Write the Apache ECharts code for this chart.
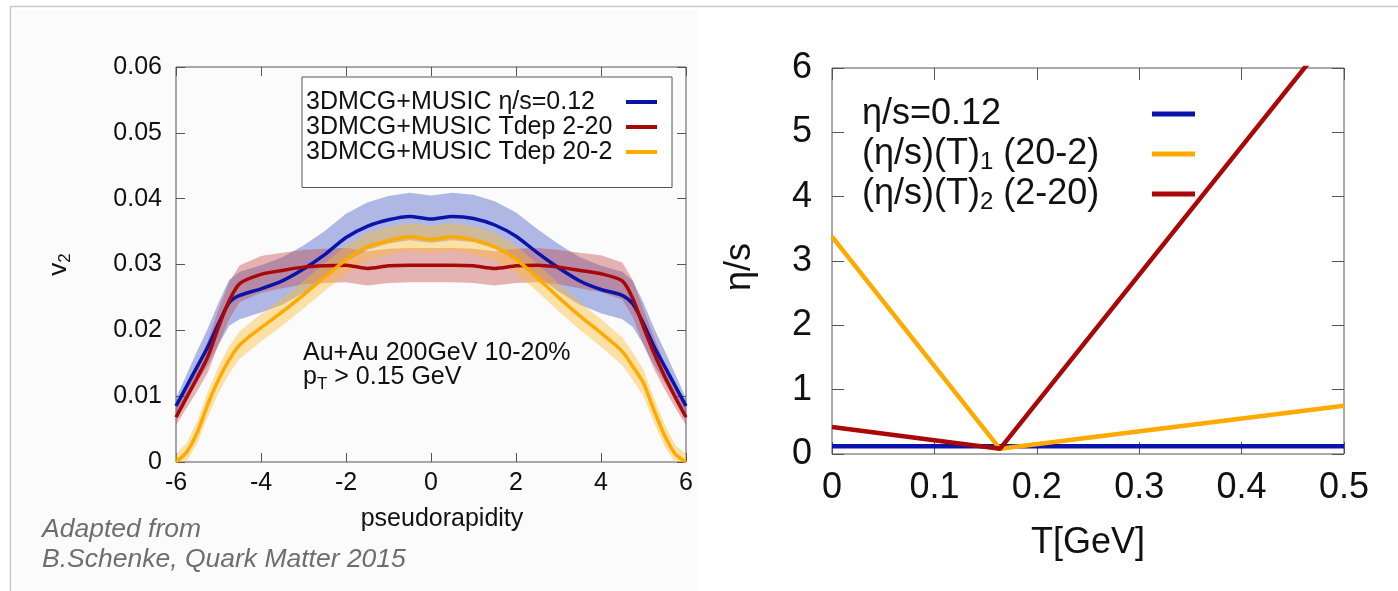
<!DOCTYPE html>
<html>
<head>
<meta charset="utf-8">
<script src="https://cdn.jsdelivr.net/npm/echarts@6/dist/echarts.min.js"></script>
<style>
  html, body { margin: 0; padding: 0; background: #ffffff; }
  #main { width: 1398px; height: 591px; }
</style>
</head>
<body>
<div id="main"></div>
<script>
const FONT = '"Liberation Sans", Arial, Helvetica, sans-serif';

// ---- Left panel: elliptic flow v2 versus pseudorapidity ----
const eta = [-6, -5.75, -5.5, -5.25, -5, -4.75, -4.5, -4, -3.5, -3, -2.5, -2, -1.5, -1, -0.5, 0,
             0.5, 1, 1.5, 2, 2.5, 3, 3.5, 4, 4.5, 4.75, 5, 5.25, 5.5, 5.75, 6];

const v2Const = [0.0085, 0.0115, 0.0145, 0.0175, 0.0210, 0.0242, 0.0253, 0.0263, 0.0275, 0.0293, 0.0315,
                 0.0341, 0.0358, 0.0368, 0.0373, 0.0369, 0.0373, 0.0370, 0.0360, 0.0343, 0.0318, 0.0295,
                 0.0275, 0.0262, 0.0253, 0.0240, 0.0210, 0.0175, 0.0145, 0.0115, 0.0085];
const v2ConstErr = [0.0012, 0.0018, 0.0024, 0.0028, 0.0032, 0.0035, 0.0036, 0.0036, 0.0036, 0.0036, 0.0036,
                    0.0036, 0.0036, 0.0036, 0.0036, 0.0036, 0.0036, 0.0036, 0.0036, 0.0036, 0.0036, 0.0036,
                    0.0036, 0.0036, 0.0036, 0.0035, 0.0032, 0.0028, 0.0024, 0.0018, 0.0012];

const v2Tdep2to20 = [0.0068, 0.0098, 0.0128, 0.0160, 0.0205, 0.0245, 0.0271, 0.0285, 0.0291, 0.0296, 0.0298,
                     0.0299, 0.0294, 0.0298, 0.0299, 0.0299, 0.0299, 0.0298, 0.0294, 0.0298, 0.0299, 0.0296,
                     0.0291, 0.0286, 0.0275, 0.0248, 0.0205, 0.0165, 0.0130, 0.0098, 0.0068];
const v2Tdep2to20Err = [0.0012, 0.0016, 0.0020, 0.0024, 0.0027, 0.0028, 0.0028, 0.0028, 0.0027, 0.0026, 0.0026,
                        0.0026, 0.0026, 0.0026, 0.0026, 0.0026, 0.0026, 0.0026, 0.0026, 0.0026, 0.0026, 0.0026,
                        0.0027, 0.0028, 0.0028, 0.0028, 0.0027, 0.0024, 0.0020, 0.0016, 0.0012];

const v2Tdep20to2 = [0.0000, 0.0015, 0.0045, 0.0088, 0.0125, 0.0155, 0.0178, 0.0204, 0.0228, 0.0254, 0.0281,
                     0.0307, 0.0327, 0.0336, 0.0342, 0.0338, 0.0342, 0.0337, 0.0327, 0.0308, 0.0280, 0.0250,
                     0.0222, 0.0196, 0.0168, 0.0145, 0.0120, 0.0078, 0.0040, 0.0012, 0.0000];
const v2Tdep20to2Err = [0.0012, 0.0014, 0.0017, 0.0019, 0.0020, 0.0021, 0.0021, 0.0021, 0.0021, 0.0021, 0.0021,
                        0.0021, 0.0021, 0.0021, 0.0021, 0.0021, 0.0021, 0.0021, 0.0021, 0.0021, 0.0021, 0.0021,
                        0.0021, 0.0021, 0.0021, 0.0021, 0.0020, 0.0019, 0.0017, 0.0014, 0.0012];

const leftNames = ['3DMCG+MUSIC η/s=0.12', '3DMCG+MUSIC Tdep 2-20', '3DMCG+MUSIC Tdep 20-2'];
const etaRange = { min: -6, max: 6, step: 2 };
const v2Range = { min: 0, max: 0.06, step: 0.01 };

// ---- Right panel: eta/s parametrisations versus temperature ----
const temperature = [0, 0.164, 0.5];
const etaSConst = [0.12, 0.12, 0.12];
const etaS20to2 = [3.38, 0.08, 0.75];
const etaS2to20 = [0.42, 0.08, 6.77];
const rightNames = ['η/s=0.12', '(η/s)(T)1 (20-2)', '(η/s)(T)2 (2-20)'];
const tRange = { min: 0, max: 0.5, step: 0.1 };
const etaSRange = { min: 0, max: 6, step: 1 };

const BLUE = '#0a14aa', RED = '#aa0808', ORANGE = '#ffaa00';

function pairs(xs, ys) { return xs.map((x, i) => [x, ys[i]]); }

// Shaded uncertainty band drawn as one polygon through the axis scales
function band(center, err, fill) {
  return {
    type: 'custom', xAxisIndex: 0, yAxisIndex: 0, silent: true, clip: true, z: 1,
    data: [[0, 0]],
    renderItem: function (params, api) {
      const upper = eta.map((x, i) => api.coord([x, center[i] + err[i]]));
      const lower = eta.map((x, i) => api.coord([x, center[i] - err[i]])).reverse();
      return { type: 'polygon', shape: { points: upper.concat(lower) }, style: { fill: fill } };
    }
  };
}

function line(name, xs, ys, color, width, xi, yi, smooth, z) {
  return {
    type: 'line', name: name, xAxisIndex: xi, yAxisIndex: yi, data: pairs(xs, ys),
    showSymbol: false, smooth: smooth, z: z, color: color,
    lineStyle: { color: color, width: width }
  };
}

function valueAxis(grid, range, pos, showLabel, labelSize, margin, tickLen, extra) {
  return Object.assign({
    type: 'value', gridIndex: grid, position: pos,
    min: range.min, max: range.max, interval: range.step,
    axisLine: { show: false, onZero: false },
    axisTick: { show: true, inside: true, length: tickLen, lineStyle: { color: '#555', width: 1 } },
    axisLabel: { show: showLabel, fontSize: labelSize, fontFamily: FONT, color: '#111', margin: margin },
    splitLine: { show: false }
  }, extra || {});
}

const chart = echarts.init(document.getElementById('main'), null, { renderer: 'canvas' });

const option = {
  animation: false,
  backgroundColor: '#ffffff',
  textStyle: { fontFamily: FONT },
  grid: [
    { left: 176, top: 67, width: 510, height: 395, show: true, borderColor: '#555', borderWidth: 1, backgroundColor: 'transparent' },
    { left: 832, top: 68, width: 512, height: 386, show: true, borderColor: '#555', borderWidth: 1, backgroundColor: 'transparent' }
  ],
  xAxis: [
    valueAxis(0, etaRange, 'bottom', true, 25, 9, 9, {
      name: 'pseudorapidity', nameLocation: 'middle', nameGap: 45,
      nameTextStyle: { fontSize: 25, fontFamily: FONT, color: '#111', padding: [0, 0, 0, 22] }
    }),
    valueAxis(0, etaRange, 'top', false, 25, 9, 9),
    valueAxis(1, tRange, 'bottom', true, 36, 16, 12, {
      name: 'T[GeV]', nameLocation: 'middle', nameGap: 71,
      nameTextStyle: { fontSize: 36, fontFamily: FONT, color: '#111' }
    }),
    valueAxis(1, tRange, 'top', false, 36, 16, 12)
  ],
  yAxis: [
    valueAxis(0, v2Range, 'left', true, 25, 14, 9, {
      name: '{a|v}{b|2}', nameLocation: 'middle', nameGap: 102, nameRotate: 90,
      nameTextStyle: {
        color: '#111',
        rich: {
          a: { fontSize: 26, fontFamily: FONT, color: '#111', lineHeight: 30 },
          b: { fontSize: 17, fontFamily: FONT, color: '#111', lineHeight: 15, verticalAlign: 'bottom' }
        }
      }
    }),
    valueAxis(0, v2Range, 'right', false, 25, 14, 9),
    valueAxis(1, etaSRange, 'left', true, 36, 20, 12, {
      name: 'η/s', nameLocation: 'middle', nameGap: 74, nameRotate: 90,
      nameTextStyle: { fontSize: 36, fontFamily: FONT, color: '#111', padding: [0, 12, 0, 0] }
    }),
    valueAxis(1, etaSRange, 'right', false, 36, 20, 12)
  ],
  legend: [
    {
      left: 302, top: 77, orient: 'vertical', align: 'right', icon: 'rect',
      itemWidth: 31, itemHeight: 4, itemGap: 0,
      padding: [12.5, 15, 23, 4],
      borderColor: '#555', borderWidth: 1, backgroundColor: '#ffffff',
      selectedMode: false,
      data: leftNames,
      formatter: function (name) { return '{t|' + name + '}'; },
      textStyle: {
        width: 315, lineHeight: 23,
        rich: { t: { fontSize: 25, lineHeight: 23, fontFamily: FONT, color: '#111', align: 'left' } }
      }
    },
    {
      left: 862, top: 94, orient: 'vertical', align: 'right', icon: 'rect',
      itemWidth: 43, itemHeight: 5, itemGap: 0, padding: 0,
      selectedMode: false,
      data: rightNames,
      formatter: function (name) {
        return '{t|' + name.replace(/\(T\)(\d)/, '(T)}{s|$1}{t|') + '}';
      },
      textStyle: {
        width: 285, lineHeight: 40,
        rich: {
          t: { fontSize: 36, lineHeight: 40, fontFamily: FONT, color: '#111', align: 'left' },
          s: { fontSize: 24, lineHeight: 22, fontFamily: FONT, color: '#111', align: 'left', verticalAlign: 'bottom' }
        }
      }
    }
  ],
  graphic: [
    { type: 'rect', z: -10, silent: true, shape: { x: 14, y: 10, width: 684, height: 581 }, style: { fill: '#fbfbfb' } },
    { type: 'line', z: -5, silent: true, shape: { x1: 10, y1: 6.5, x2: 1398, y2: 6.5 }, style: { stroke: '#c8c8c8', lineWidth: 1.5 } },
    { type: 'line', z: -5, silent: true, shape: { x1: 10.5, y1: 6, x2: 10.5, y2: 591 }, style: { stroke: '#c8c8c8', lineWidth: 1.5 } },
    { type: 'text', left: 303, top: 341, z: 10, silent: true,
      style: { text: 'Au+Au 200GeV 10-20%', fontSize: 25, fontFamily: FONT, fill: '#111' } },
    { type: 'text', left: 303, top: 365, z: 10, silent: true,
      style: {
        text: '{a|p}{b|T}{a| > 0.15 GeV}',
        rich: {
          a: { fontSize: 25, fontFamily: FONT, fill: '#111', lineHeight: 30 },
          b: { fontSize: 17, fontFamily: FONT, fill: '#111', lineHeight: 15, verticalAlign: 'bottom' }
        }
      } },
    { type: 'text', left: 42, top: 516, z: 10, silent: true,
      style: { text: 'Adapted from', fontSize: 26.5, fontStyle: 'italic', fontFamily: FONT, fill: '#6e6e6e' } },
    { type: 'text', left: 42, top: 546, z: 10, silent: true,
      style: { text: 'B.Schenke, Quark Matter 2015', fontSize: 26.5, fontStyle: 'italic', fontFamily: FONT, fill: '#6e6e6e' } }
  ],
  series: [
    band(v2Const, v2ConstErr, 'rgba(70, 90, 195, 0.42)'),
    band(v2Tdep2to20, v2Tdep2to20Err, 'rgba(195, 60, 60, 0.38)'),
    band(v2Tdep20to2, v2Tdep20to2Err, 'rgba(255, 185, 45, 0.42)'),
    line(leftNames[0], eta, v2Const, BLUE, 3.5, 0, 0, 0.25, 3),
    line(leftNames[1], eta, v2Tdep2to20, RED, 3.5, 0, 0, 0.25, 4),
    line(leftNames[2], eta, v2Tdep20to2, ORANGE, 3.5, 0, 0, 0.25, 5),
    line(rightNames[0], temperature, etaSConst, BLUE, 4.5, 2, 2, false, 3),
    line(rightNames[1], temperature, etaS20to2, ORANGE, 4.5, 2, 2, false, 4),
    line(rightNames[2], temperature, etaS2to20, RED, 4.5, 2, 2, false, 5)
  ]
};

chart.setOption(option);
</script>
</body>
</html>
